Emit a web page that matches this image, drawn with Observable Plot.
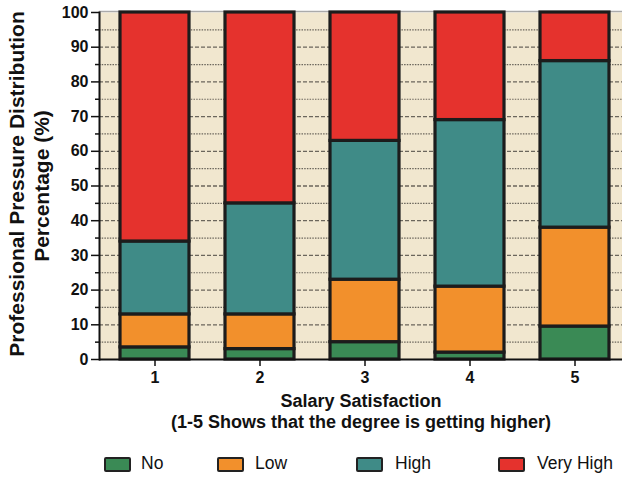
<!DOCTYPE html>
<html>
<head>
<meta charset="utf-8">
<script src="https://cdn.jsdelivr.net/npm/d3@7"></script>
<script src="https://cdn.jsdelivr.net/npm/@observablehq/plot@0.6"></script>
<style>
  body { margin: 0; background: white; font-family: "Liberation Sans", Arial, sans-serif; }
  #wrap { width: 622px; }
  #legend { position: relative; width: 622px; height: 38px; }
  .sw { position: absolute; top: 17px; width: 23px; height: 11px; border: 2.5px solid #222; border-radius: 2px; }
  .lb { position: absolute; top: 13px; font-size: 17.5px; color: #111; line-height: 20px; }
</style>
</head>
<body>
<div id="wrap"></div>
<script>
const categories = ["1", "2", "3", "4", "5"];
const series = ["No", "Low", "High", "Very High"];
const noVals = [3.5, 3, 5, 2, 9.5];
const lowVals = [9.5, 10, 18, 19, 28.5];
const highVals = [21, 32, 40, 48, 48];
const veryHighVals = [66, 55, 37, 31, 14];
const colors = ["#3a8a55", "#f2902c", "#3f8b87", "#e5322d"];
const yTicks = [0, 10, 20, 30, 40, 50, 60, 70, 80, 90, 100];
const yMinor = [5, 15, 25, 35, 45, 55, 65, 75, 85, 95];
const xTitle = ["Salary Satisfaction", "(1-5 Shows that the degree is getting higher)"];
const yTitle = ["Professional Pressure Distribution", "Percentage (%)"];

const valueSets = [noVals, lowVals, highVals, veryHighVals];
const data = categories.flatMap((c, i) =>
  series.map((s, j) => ({cat: c, series: s, value: valueSets[j][i]}))
);

const beige = "#f1e7cf";

const chart = Plot.plot({
  width: 622,
  height: 440,
  marginLeft: 99,
  marginRight: 0,
  marginTop: 12,
  marginBottom: 81,
  style: {fontFamily: "'Liberation Sans', Arial, sans-serif", color: "#111", background: "white", overflow: "visible"},
  x: {domain: categories, paddingInner: 0.34, paddingOuter: 0.137, align: 0.62, label: null},
  y: {domain: [0, 100], label: null},
  color: {domain: series, range: colors},
  marks: [
    Plot.frame({fill: beige, stroke: null}),
    Plot.ruleY(yTicks.filter(v => v > 0 && v < 100), {stroke: "#6b665c", strokeWidth: 1.3, strokeDasharray: "4,2"}),
    Plot.ruleY(yMinor, {stroke: "#6b665c", strokeWidth: 1.2, strokeDasharray: "1.5,1.2"}),
    Plot.ruleY([100], {stroke: "#aaa", strokeWidth: 1.5, dy: -1}),
    Plot.barY(data, {x: "cat", y: "value", fill: "series", stroke: "#1c1c1c", strokeWidth: 3.2, inset: 0}),
    Plot.axisY({ticks: yTicks, tickSize: 8, tickPadding: 3, fontSize: 16, fontWeight: "bold", label: null, stroke: "#111", strokeWidth: 1.5}),
    Plot.axisY({ticks: yMinor, tickSize: 4, text: null, label: null, stroke: "#111", strokeWidth: 1.5}),
    Plot.axisX({tickSize: 7, tickPadding: 5, fontSize: 16, fontWeight: "bold", label: null, stroke: "#111", strokeWidth: 1.5}),
    Plot.ruleY([0], {stroke: "#111", strokeWidth: 2}),
    Plot.frame({anchor: "left", stroke: "#111", strokeWidth: 2}),
    Plot.text([xTitle[0]], {frameAnchor: "bottom", dy: 47, fontSize: 18, fontWeight: "bold", fill: "#111"}),
    Plot.text([xTitle[1]], {frameAnchor: "bottom", dy: 68, fontSize: 18, fontWeight: "bold", fill: "#111"}),
    Plot.text([yTitle[0]], {frameAnchor: "left", textAnchor: "middle", dx: -82, dy: -2, rotate: -90, fontSize: 21, fontWeight: "bold", fill: "#111"}),
    Plot.text([yTitle[1]], {frameAnchor: "left", textAnchor: "middle", dx: -57, dy: 0, rotate: -90, fontSize: 21, fontWeight: "bold", fill: "#111"})
  ]
});
document.getElementById("wrap").appendChild(chart);

const legend = document.createElement("div");
legend.id = "legend";
const swatchLeft = [104, 217, 356, 498];
const labelLeft = [141, 255, 395, 537];
series.forEach((s, i) => {
  const sw = document.createElement("div");
  sw.className = "sw";
  sw.style.left = swatchLeft[i] + "px";
  sw.style.background = colors[i];
  legend.appendChild(sw);
  const lb = document.createElement("div");
  lb.className = "lb";
  lb.style.left = labelLeft[i] + "px";
  lb.textContent = s;
  legend.appendChild(lb);
});
document.getElementById("wrap").appendChild(legend);
</script>
</body>
</html>
